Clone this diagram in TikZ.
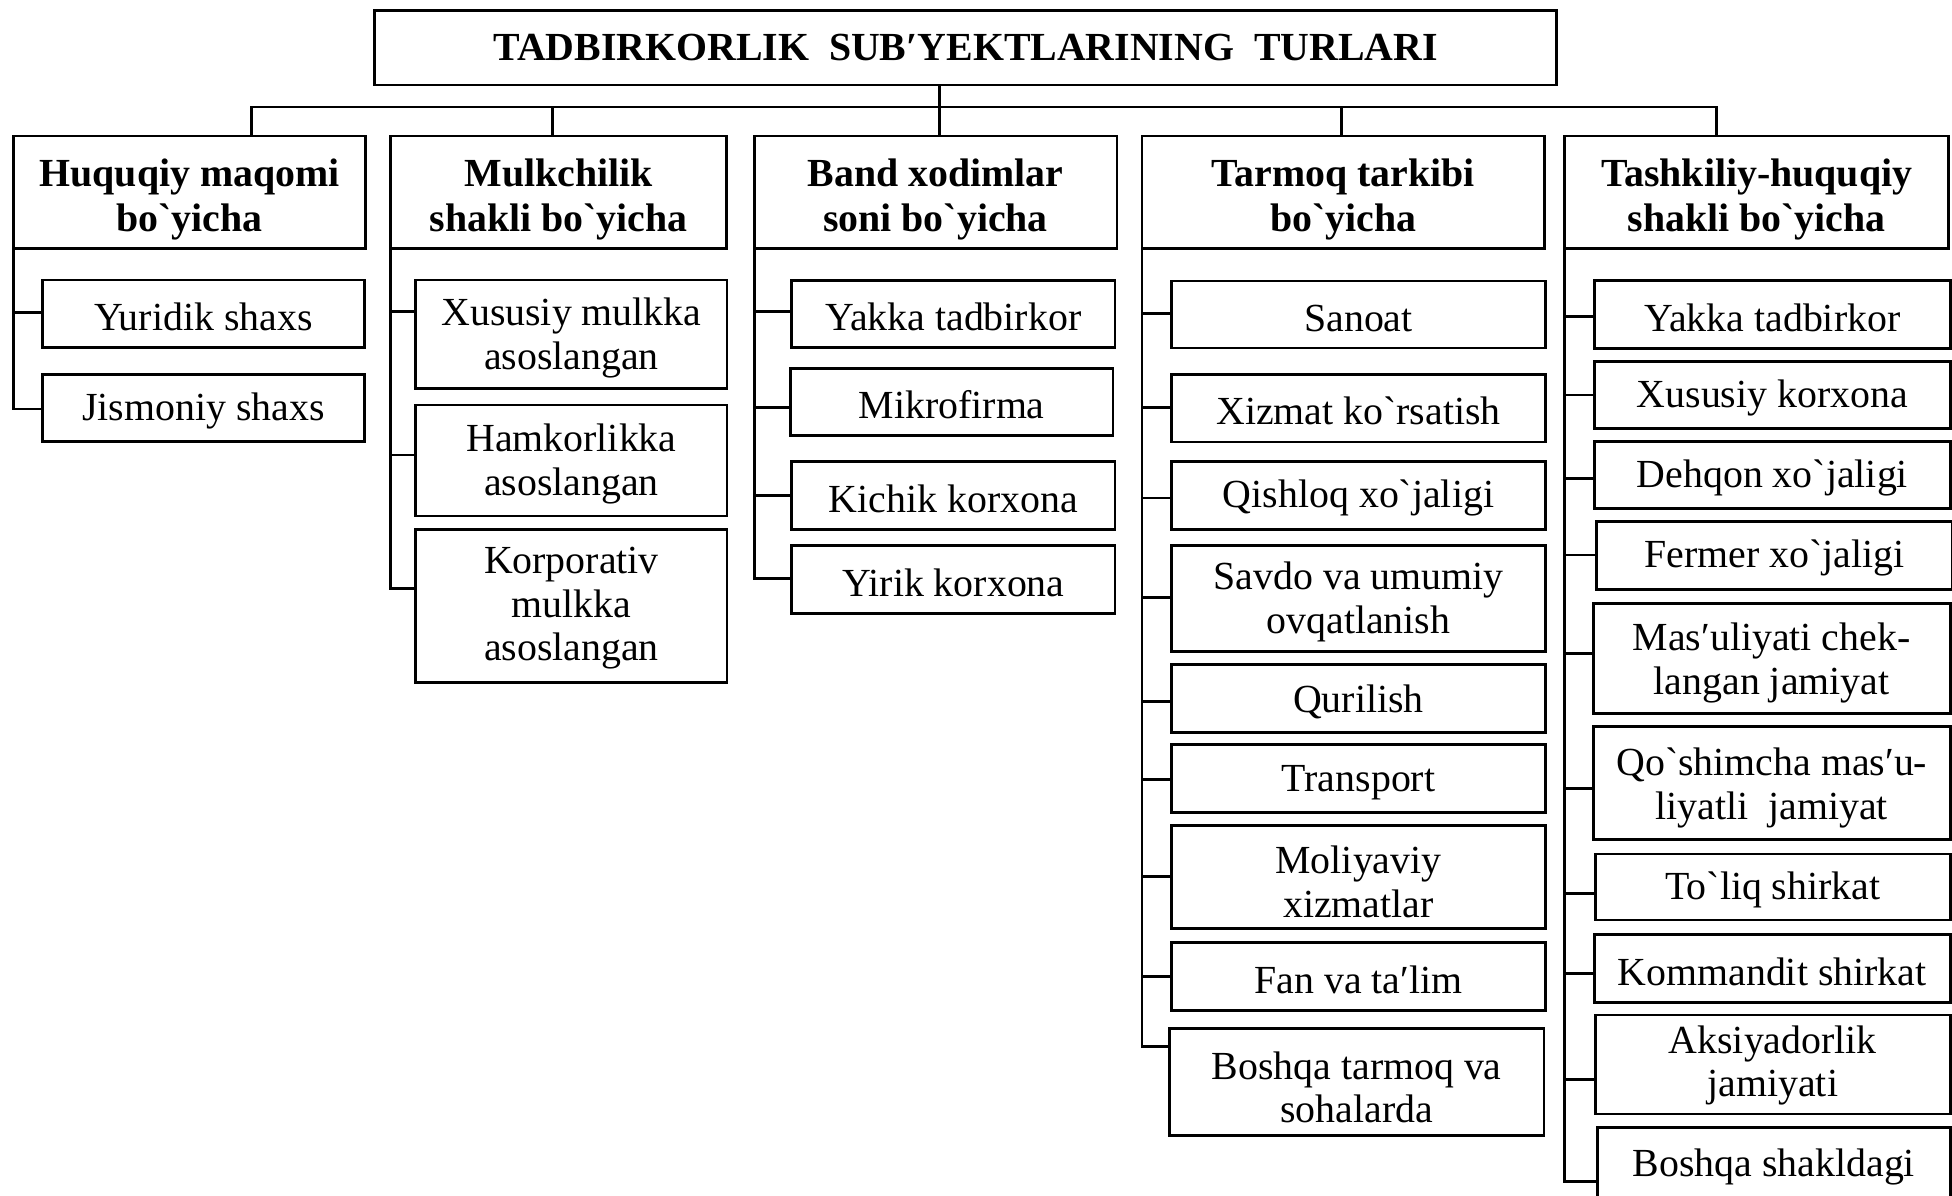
\documentclass[tikz,border=0pt]{standalone}
\usepackage{fontspec}
\newfontfamily\tnr{Liberation Serif}
\newcommand\kidbox[9]{%
  \pgfmathsetmacro\kx{(#3+#4)/2}\pgfmathsetmacro\ky{(#5+#6)/2}%
  \pgfmathsetmacro\kw{#4-#3}\pgfmathsetmacro\kh{#6-#5}%
  \pgfmathsetmacro\ks{#5-#7}%
  \node[kid, minimum width=\kw pt, minimum height=\kh pt] (#1) at (\kx,\ky) {\rule{0pt}{#8pt}#9};
  \draw[conn] (#2.south west) |- ([yshift=\ks pt]#1.north west);
}
\begin{document}
\begin{tikzpicture}[x=1pt,y=-1pt,
  bx/.style={draw, line width=2.3pt, inner sep=0pt, outer sep=0pt, align=center},
  kid/.style={bx, font={\tnr\fontsize{32}{35}\selectfont}},
  head/.style={bx, font={\tnr\bfseries\fontsize{32}{36}\selectfont}},
  conn/.style={line width=2.3pt}]
\useasboundingbox (0,0) rectangle (1568,960);
\clip (0,0) rectangle (1568,960);

% title
\node[head, minimum width=949.4pt, minimum height=59.5pt] (title) at (775.7,38.5)
  {TADBIRKORLIK\ \ SUB′YEKTLARINING\ \ TURLARI};

% level 2
\node[head, minimum width=282.7pt, minimum height=90.2pt] (h1) at (152.35,154.4) {\rule{0pt}{34pt}Huquqiy maqomi\\bo`yicha};
\node[head, minimum width=270.1pt, minimum height=90.2pt] (h2) at (448.75,154.4) {\rule{0pt}{34pt}Mulkchilik\\shakli bo`yicha};
\node[head, minimum width=291.5pt, minimum height=90.2pt] (h3) at (751.55,154.4) {\rule{0pt}{34pt}Band xodimlar\\soni bo`yicha};
\node[head, minimum width=323.5pt, minimum height=90.2pt] (h4) at (1079.05,154.4) {\rule{0pt}{34pt}Tarmoq tarkibi\\bo`yicha};
\node[head, minimum width=308.3pt, minimum height=90.2pt] (h5) at (1411.15,154.4) {\rule{0pt}{34pt}Tashkiliy-huquqiy\\shakli bo`yicha};

% bus
\coordinate (J) at (754.4,86);
\draw[conn] (title.south -| J) -- (J);
\draw[conn] ([xshift=49.65pt]h1.north) |- (J);
\draw[conn] ([xshift=-4.75pt]h2.north) |- (J);
\draw[conn] ([xshift=3.45pt]h3.north) |- (J);
\draw[conn] ([xshift=-1.65pt]h4.north) |- (J);
\draw[conn] ([xshift=-32.55pt]h5.north) |- (J);

% column 1
\kidbox{c11}{h1}{34.3}{292.8}{224.9}{279.3}{251.1}{27}{Yuridik shaxs}
\kidbox{c12}{h1}{34.3}{292.8}{300.7}{354.8}{328.5}{27}{Jismoniy shaxs}

% column 2
\kidbox{c21}{h2}{334}{584}{224.9}{311.9}{250.3}{28}{Xususiy mulkka\\asoslangan}
\kidbox{c22}{h2}{334}{584}{325.3}{414.5}{365.5}{28}{Hamkorlikka\\asoslangan}
\kidbox{c23}{h2}{334}{584}{425.1}{548.3}{472.5}{25}{Korporativ\\mulkka\\asoslangan}

% column 3
\kidbox{c31}{h3}{636}{895.6}{225}{279}{250.5}{27}{Yakka tadbirkor}
\kidbox{c32}{h3}{635}{894}{296}{350}{327}{27}{Mikrofirma}
\kidbox{c33}{h3}{636}{895.6}{371}{425}{398}{27}{Kichik korxona}
\kidbox{c34}{h3}{636}{895.6}{438.5}{492.5}{464.5}{27}{Yirik korxona}

% column 4
\kidbox{c41}{h4}{941}{1241.5}{225.7}{279.5}{251.6}{27}{Sanoat}
\kidbox{c42}{h4}{941}{1241.5}{300.5}{355}{327}{27}{Xizmat ko`rsatish}
\kidbox{c43}{h4}{941}{1241.5}{371}{425}{400}{27}{Qishloq xo`jaligi}
\kidbox{c44}{h4}{941}{1241.5}{438.5}{523}{479.8}{28}{Savdo va umumiy\\ovqatlanish}
\kidbox{c45}{h4}{941}{1241.5}{533.8}{588.5}{563.4}{27}{Qurilish}
\kidbox{c46}{h4}{941}{1241.5}{598}{652.7}{626}{27}{Transport}
\kidbox{c47}{h4}{941}{1241.5}{663}{746}{704}{30}{Moliyaviy\\xizmatlar}
\kidbox{c48}{h4}{941}{1241.5}{757.4}{811.9}{784.5}{27}{Fan va ta′lim}
\kidbox{c49}{h4}{939.4}{1240.2}{826.4}{912.4}{840.4}{30}{Boshqa tarmoq va\\sohalarda}

% column 5
\kidbox{c51}{h5}{1281}{1566.5}{225.4}{279.8}{254.4}{27}{Yakka tadbirkor}
\kidbox{c52}{h5}{1281}{1566.5}{290.5}{344}{317.3}{27}{Xususiy korxona}
\kidbox{c53}{h5}{1281}{1566.5}{354.8}{408.3}{384.2}{27}{Dehqon xo`jaligi}
\kidbox{c54}{h5}{1282.5}{1568}{419}{473.4}{445.8}{27}{Fermer xo`jaligi}
\kidbox{c55}{h5}{1279.7}{1566.5}{484.6}{573}{524.8}{30}{Mas′uliyati chek-\\langan jamiyat}
\kidbox{c56}{h5}{1280}{1566.5}{583.5}{674.2}{633.7}{30}{Qo`shimcha mas′u-\\liyatli\ \ jamiyat}
\kidbox{c57}{h5}{1281.6}{1566.5}{686}{739}{717.5}{27}{To`liq shirkat}
\kidbox{c58}{h5}{1280.5}{1566.5}{751}{805.4}{781.8}{27}{Kommandit shirkat}
\kidbox{c59}{h5}{1281.6}{1566.5}{815.3}{894.8}{866.9}{24}{Aksiyadorlik\\jamiyati}
\kidbox{c510}{h5}{1283.4}{1566.5}{906}{964}{949.2}{27}{Boshqa shakldagi}
\end{tikzpicture}
\end{document}
